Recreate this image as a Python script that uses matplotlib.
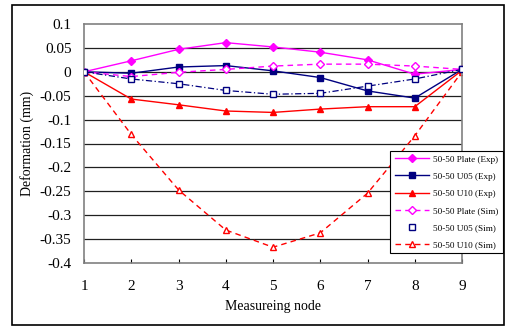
import matplotlib
matplotlib.use("Agg")
import matplotlib.pyplot as plt
from matplotlib.patches import Rectangle
from matplotlib.lines import Line2D

plt.rcParams['font.family'] = ['Liberation Serif', 'DejaVu Serif']

nodes = [1, 2, 3, 4, 5, 6, 7, 8, 9]
plate_exp = [0, 0.023, 0.047, 0.061, 0.052, 0.041, 0.025, -0.005, 0.005]
u05_exp = [0, -0.003, 0.010, 0.013, 0.002, -0.012, -0.040, -0.055, 0.005]
u10_exp = [0, -0.057, -0.069, -0.082, -0.085, -0.078, -0.073, -0.073, 0.003]
plate_sim = [0, -0.010, -0.001, 0.005, 0.012, 0.016, 0.016, 0.012, 0.005]
u05_sim = [0, -0.015, -0.025, -0.039, -0.047, -0.045, -0.030, -0.015, 0.005]
u10_sim = [0, -0.131, -0.247, -0.331, -0.367, -0.337, -0.254, -0.134, 0]

labels = ["50-50 Plate (Exp)", "50-50 U05 (Exp)", "50-50 U10 (Exp)",
          "50-50 Plate (Sim)", "50-50 U05 (Sim)", "50-50 U10 (Sim)"]
yticks = [0.1, 0.05, 0, -0.05, -0.1, -0.15, -0.2, -0.25, -0.3, -0.35, -0.4]
ytick_labels = ["0.1", "0.05", "0", "-0.05", "-0.1", "-0.15", "-0.2", "-0.25", "-0.3", "-0.35", "-0.4"]

W, H = 506, 327
fig = plt.figure(figsize=(W / 100, H / 100), dpi=100)
fig.patches.append(Rectangle((12 / W, 1 - 325 / H), 492 / W, 320 / H, transform=fig.transFigure,
                             fill=False, edgecolor='black', linewidth=1.2))
ax = fig.add_axes([84 / W, 1 - 263 / H, 378 / W, 239 / H])

magenta = '#FF00FF'
navy = '#000080'
red = '#FF0000'

for y in yticks[1:-1]:
    ax.axhline(y, color='#202020', linewidth=0.9, zorder=0)

h1, = ax.plot(nodes, plate_exp, color=magenta, marker='D', markersize=3.8, lw=1.0, label=labels[0])
h2, = ax.plot(nodes, u05_exp, color=navy, marker='s', markersize=4.2, lw=1.0, label=labels[1])
h3, = ax.plot(nodes, u10_exp, color=red, marker='^', markersize=4.8, lw=1.0, label=labels[2])
h4, = ax.plot(nodes, plate_sim, color=magenta, marker='D', markersize=3.8, mfc='white', lw=1.0,
              ls=(0, (4, 3)), label=labels[3])
ax.plot(nodes, u05_sim, color=navy, lw=0.9, ls=(0, (5, 2, 1, 2)), zorder=2)
h5 = Line2D([], [], color=navy, marker='s', markersize=4.2, mfc='white', ls='none', label=labels[4])
ax.plot(nodes, u05_sim, color=navy, marker='s', markersize=4.2, mfc='white', ls='none', zorder=3)
h6, = ax.plot(nodes, u10_sim, color=red, marker='^', markersize=4.8, mfc='white', lw=1.0,
              ls=(0, (4, 3)), label=labels[5])

ax.set_xlim(1, 9)
ax.set_ylim(-0.4, 0.1)
ax.set_xticks(nodes)
ax.set_yticks(yticks)
ax.set_yticklabels(ytick_labels)
ax.tick_params(axis='x', direction='in', length=3, pad=12, labelsize=11)
ax.tick_params(axis='y', length=0, pad=9, labelsize=11)
for s in ax.spines.values():
    s.set_color('#808080')
    s.set_linewidth(1.2)

ax.set_xlabel("Measureing node", fontsize=10, labelpad=5)
ax.set_ylabel("Deformation (mm)", fontsize=10, labelpad=4)

leg = fig.legend(handles=[h1, h2, h3, h4, h5, h6], loc='upper right',
                 bbox_to_anchor=(503 / W, 1 - 151 / H), bbox_transform=fig.transFigure,
                 fontsize=6.6, frameon=True, fancybox=False, edgecolor='black',
                 framealpha=1, handlelength=3.8, borderpad=0.45, labelspacing=0.95,
                 handletextpad=0.45, borderaxespad=0)
leg.get_frame().set_linewidth(0.8)

fig.savefig("out.png", dpi=100)
